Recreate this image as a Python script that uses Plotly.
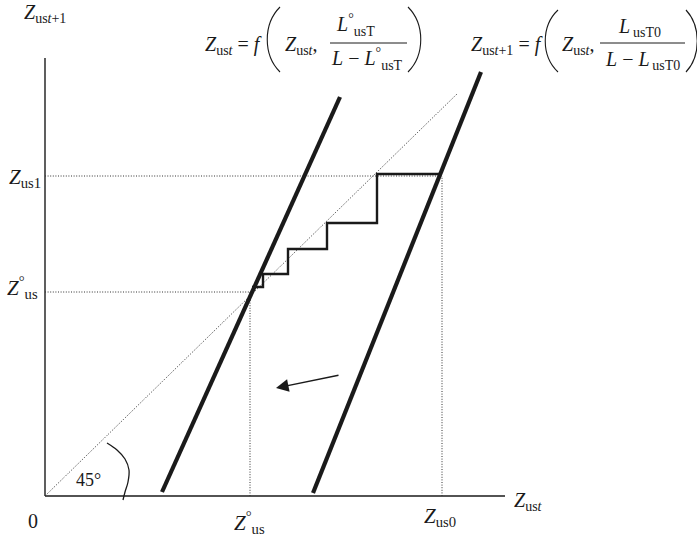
import plotly.graph_objects as go

# ---------------- data (model units: origin of the diagram at 0,0) ----------------
AXIS_X = [0, 460]
AXIS_Y = [0, 438]
DIAG_X = [0, 413]
DIAG_Y = [0, 403]
LEFT_LINE_X = [117, 295]
LEFT_LINE_Y = [4, 399]
RIGHT_LINE_X = [268, 436]
RIGHT_LINE_Y = [3, 424]
STEP_X = [395, 332, 332, 282, 282, 243, 243, 218, 218, 207]
STEP_Y = [322, 322, 273, 273, 247, 247, 222, 222, 209, 209]
Z_US1 = 320          # level of Z_us1 on the vertical axis
Z_US0 = 397          # Z_us0 on the horizontal axis
Z_STAR = [205, 204]  # equilibrium point (Z°us, Z°us)
ARC_X = [62, 72, 80, 84, 83, 80, 78]
ARC_Y = [53, 46, 37, 26, 14, 4, -4]
ARROW_FROM = [295, 121]
ARROW_TO = [231, 108]

FONT = "Liberation Serif"
BLACK = "#1a1a1a"
DOT = "#333333"
DOTDASH = "1px,1.6px"

fig = go.Figure()

def line(x, y, width, color=BLACK, dash=None, shape="linear"):
    fig.add_trace(go.Scatter(x=x, y=y, mode="lines", hoverinfo="skip",
                             line=dict(width=width, color=color, dash=dash, shape=shape),
                             showlegend=False))

# axes
line(AXIS_X, [0, 0], 1.4)
line([0, 0], AXIS_Y, 1.4)
# 45 degree line
line(DIAG_X, DIAG_Y, 1, DOT, DOTDASH)
# dotted guides
line([0, Z_US0], [Z_US1, Z_US1], 1, DOT, DOTDASH)
line([Z_US0, Z_US0], [0, Z_US1], 1, DOT, DOTDASH)
line([0, Z_STAR[0]], [Z_STAR[1], Z_STAR[1]], 1, DOT, DOTDASH)
line([Z_STAR[0], Z_STAR[0]], [0, Z_STAR[1]], 1, DOT, DOTDASH)
# thick curves
line(LEFT_LINE_X, LEFT_LINE_Y, 4.2)
line(RIGHT_LINE_X, RIGHT_LINE_Y, 4.2)
# staircase
line(STEP_X, STEP_Y, 2.4)
# angle arc
line(ARC_X, ARC_Y, 1.3, shape="spline")

ann = []
def text(x, y, s, size=20, xanchor="center", yanchor="middle"):
    ann.append(dict(x=x, y=y, text=s, showarrow=False, xanchor=xanchor, yanchor=yanchor,
                    font=dict(family=FONT, size=size, color=BLACK)))

# arrow
ann.append(dict(x=ARROW_TO[0], y=ARROW_TO[1], ax=ARROW_FROM[0], ay=ARROW_FROM[1],
                xref="x", yref="y", axref="x", ayref="y", showarrow=True,
                arrowhead=2, arrowsize=1.8, arrowwidth=1.4, arrowcolor=BLACK, text=""))

DEG = "<sup>°</sup>"
# axis labels
text(0, 483, "<i>Z</i><sub>us<i>t</i>+1</sub>")
text(-2, 318, "<i>Z</i><sub>us1</sub>", size=21, xanchor="right")
text(-5, 209, "<i>Z</i>" + DEG + "<sub>us</sub>", size=21, xanchor="right")
text(-12, -25, "0")
text(204, -26, "<i>Z</i>" + DEG + "<sub>us</sub>", size=21)
text(395, -21, "<i>Z</i><sub>us0</sub>", size=21)
text(467, -5, "<i>Z</i><sub>us<i>t</i></sub>", xanchor="left")
text(43, 16, "45°", size=18)

# formula 1
text(219, 451, "<i>Z</i><sub>us<i>t</i></sub> = <i>f</i>", xanchor="right")
text(238, 451, "<i>Z</i><sub>us<i>t</i></sub>,", xanchor="left")
text(310, 471, "<i>L</i>" + DEG + "<sub>usT</sub>")
text(322, 437, "<i>L</i> − <i>L</i>" + DEG + "<sub>usT</sub>")
# formula 2
text(500, 451, "<i>Z</i><sub>us<i>t</i>+1</sub> = <i>f</i>", xanchor="right")
text(515, 451, "<i>Z</i><sub>us<i>t</i></sub>,", xanchor="left")
text(594, 469, "<i>L</i><sub>\u2009usT0</sub>")
text(597, 436, "<i>L</i> − <i>L</i><sub>\u2009usT0</sub>")

shapes = [
    # fraction bars
    dict(type="line", x0=285, x1=362, y0=453, y1=453, line=dict(color=BLACK, width=1)),
    dict(type="line", x0=555, x1=640, y0=453, y1=453, line=dict(color=BLACK, width=1)),
    # big parentheses
    dict(type="path", path="M 235,489 C 218,472 218,441 235,424", line=dict(color=BLACK, width=1.1)),
    dict(type="path", path="M 363,489 C 380,472 380,441 363,424", line=dict(color=BLACK, width=1.1)),
    dict(type="path", path="M 513,486 C 496,470 496,440 513,424", line=dict(color=BLACK, width=1.1)),
    dict(type="path", path="M 641,486 C 656,470 656,440 641,424", line=dict(color=BLACK, width=1.1)),
]

fig.update_layout(
    width=697, height=540, margin=dict(l=0, r=0, t=0, b=0),
    paper_bgcolor="white", plot_bgcolor="white",
    xaxis=dict(range=[-45, 652], visible=False, fixedrange=True),
    yaxis=dict(range=[-44, 496], visible=False, fixedrange=True),
    annotations=ann, shapes=shapes,
)

fig.write_html("out.html", config={"displayModeBar": False},
               post_script="document.body.style.margin='0';")
